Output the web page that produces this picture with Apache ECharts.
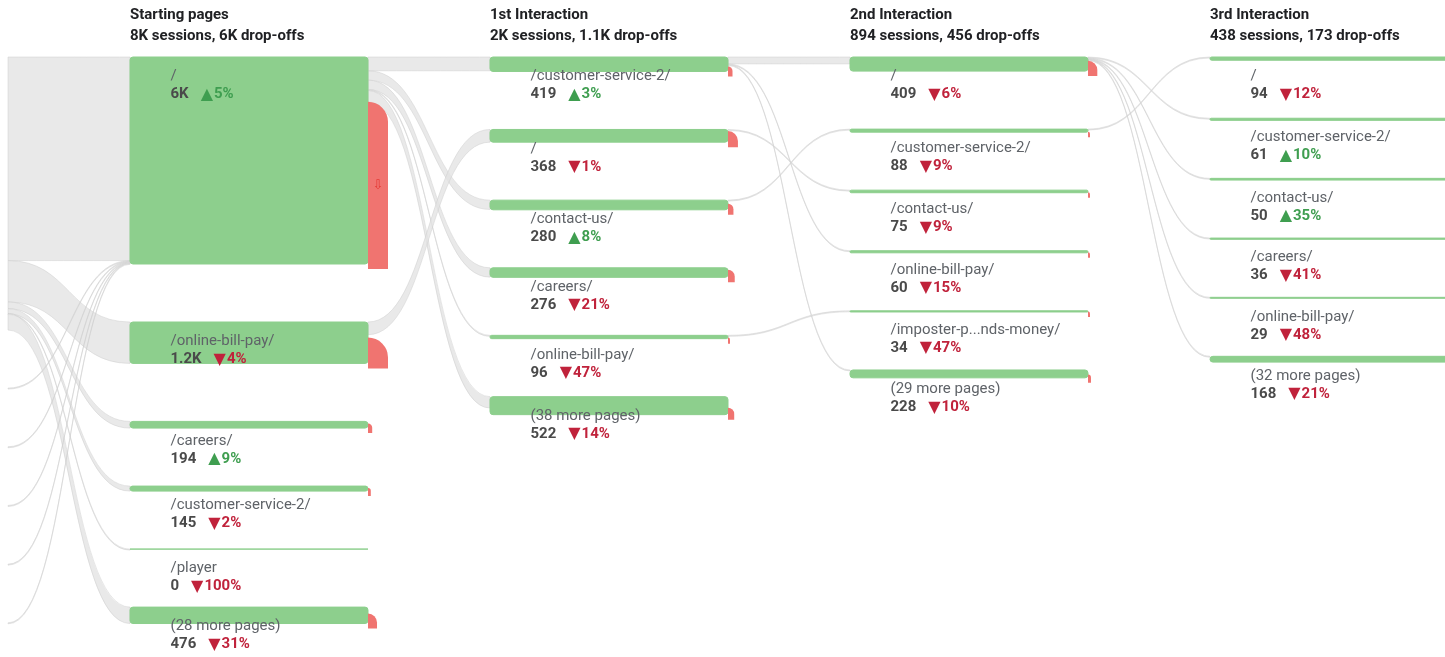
<!DOCTYPE html>
<html>
<head>
<meta charset="utf-8">
<script src="https://cdn.jsdelivr.net/npm/echarts@6.0.0/dist/echarts.min.js"></script>
<style>
  html, body { margin: 0; background: #fff; }
  #chart { width: 1445px; height: 657px; }
</style>
</head>
<body>
<div id="chart"></div>
<script>
// column headers
const stepNames = ['Starting pages', '1st Interaction', '2nd Interaction', '3rd Interaction'];

// pages per step (top to bottom)
const startPages = ['/', '/online-bill-pay/', '/careers/', '/customer-service-2/', '/player', '(28 more pages)'];
const step1Pages = ['/customer-service-2/', '/', '/contact-us/', '/careers/', '/online-bill-pay/', '(38 more pages)'];
const step2Pages = ['/', '/customer-service-2/', '/contact-us/', '/online-bill-pay/', '/imposter-p...nds-money/', '(29 more pages)'];
const step3Pages = ['/', '/customer-service-2/', '/contact-us/', '/careers/', '/online-bill-pay/', '(32 more pages)'];

// sessions per page
const startSessions = [6000, 1200, 194, 145, 0, 476];
const step1Sessions = [419, 368, 280, 276, 96, 522];
const step2Sessions = [409, 88, 75, 60, 34, 228];
const step3Sessions = [94, 61, 50, 36, 29, 168];

// change vs previous period, %
const startChange = [5, -4, 9, -2, -100, -31];
const step1Change = [3, -1, 8, -21, -47, -14];
const step2Change = [-6, -9, -9, -15, -47, -10];
const step3Change = [-12, 10, 35, -41, -48, -21];

// drop-offs per page (estimated from the red marks)
const startDrops = [4700, 750, 135, 90, 0, 290];
const step1Drops = [145, 320, 175, 217, 30, 200];
const step2Drops = [300, 15, 15, 15, 15, 96];
const step3Drops = [30, 20, 15, 12, 10, 86];

// entrances from the left edge into the starting pages
const entranceMain = [5900, 1200, 194, 145, 0, 476];
const entranceMinor = [20, 20, 20, 20, 20]; // small sources, all into '/'

// flows between steps: [from step, from page, to page, sessions]
const stepFlows = [
  [0, 0, 0, 400], [0, 0, 2, 270], [0, 0, 3, 270], [0, 0, 4, 30], [0, 0, 5, 330],
  [0, 1, 1, 368],
  [1, 0, 0, 200], [1, 0, 3, 20], [1, 0, 5, 25], [1, 1, 2, 20], [1, 2, 1, 20], [1, 4, 4, 10],
  [2, 0, 1, 30], [2, 1, 0, 20], [2, 0, 2, 20], [2, 0, 3, 15], [2, 0, 4, 15], [2, 0, 5, 25]
];

const pageCols = [startPages, step1Pages, step2Pages, step3Pages];
const sessionCols = [startSessions, step1Sessions, step2Sessions, step3Sessions];
const changeCols = [startChange, step1Change, step2Change, step3Change];
const dropCols = [startDrops, step1Drops, step2Drops, step3Drops];

// layout
const firstColX = 130;
const colStep = 360;
const barWidth = 238;
const nodeTop = 57;
const gap = 58;
const pxPerSession = 0.0345;

const sum = a => a.reduce((s, v) => s + v, 0);
const fmt = v => v < 1000 ? String(v) : (v / 1000).toFixed(1).replace('.0', '') + 'K';

const nodes = [];
const links = [];
const dropRefs = [];

nodes.push({ name: 'in-main', depth: 0, value: sum(entranceMain), label: { show: false }, itemStyle: { color: 'transparent', borderWidth: 0 } });
entranceMinor.forEach((v, i) => {
  nodes.push({ name: 'in-' + i, depth: 0, value: v, label: { show: false }, itemStyle: { color: 'transparent', borderWidth: 0 } });
});
pageCols.forEach((col, c) => {
  col.forEach((page, i) => {
    dropRefs.push({ index: nodes.length, drop: dropCols[c][i] });
    nodes.push({
      name: 's' + c + '-' + i,
      depth: c + 1,
      value: sessionCols[c][i],
      page: page,
      sessions: sessionCols[c][i],
      change: changeCols[c][i]
    });
  });
});

entranceMain.forEach((v, i) => links.push({ source: 'in-main', target: 's0-' + i, value: v }));
entranceMinor.forEach((v, i) => links.push({ source: 'in-' + i, target: 's0-0', value: v }));
stepFlows.forEach(f => links.push({ source: 's' + f[0] + '-' + f[1], target: 's' + (f[0] + 1) + '-' + f[2], value: f[3] }));

const totalStart = sum(startSessions);
const maxRows = Math.max(startPages.length, entranceMinor.length + 1);

const titles = stepNames.map((name, c) => ({
  text: name + '\n' + fmt(sum(sessionCols[c])) + ' sessions, ' + fmt(sum(dropCols[c])) + ' drop-offs',
  left: firstColX + c * colStep,
  top: 5,
  padding: 0,
  textStyle: { fontSize: 15, fontWeight: 'bold', color: '#202124', lineHeight: 21, fontFamily: 'Roboto' }
}));

const txt = { fontSize: 15, lineHeight: 18, fontFamily: 'Roboto' };
const arrow = { fontSize: 16, lineHeight: 18, fontFamily: 'DejaVu Sans', padding: [0, 1, 0, 12] };

const chart = echarts.init(document.getElementById('chart'));
chart.setOption({
  animation: false,
  title: titles,
  series: [{
    type: 'sankey',
    left: firstColX - colStep,
    top: nodeTop,
    width: stepNames.length * colStep + barWidth,
    height: (maxRows - 1) * gap + totalStart * pxPerSession,
    nodeWidth: barWidth,
    nodeGap: gap,
    nodeAlign: 'left',
    layoutIterations: 0,
    draggable: false,
    emphasis: { disabled: true },
    itemStyle: { color: '#8dcf8d', borderColor: '#8dcf8d', borderWidth: 1, borderRadius: 3 },
    lineStyle: { color: '#e3e3e3', opacity: 0.8, curveness: 0.5, borderColor: '#cdcdcd', borderWidth: 0.6 },
    label: {
      show: true,
      position: [41, 11],
      fontFamily: 'Roboto',
      formatter: p => {
        const d = p.data;
        const k = d.change >= 0 ? 'up' : 'dn';
        return '{n|' + d.page + '}\n{v|' + fmt(d.sessions) + '}{' + k + 'A|' + (d.change >= 0 ? '▲' : '▼') + '}{' + k + '|' + Math.abs(d.change) + '%}';
      },
      rich: {
        n: Object.assign({}, txt, { color: '#5f6368' }),
        v: Object.assign({}, txt, { fontWeight: 'bold', color: '#4a4a4a' }),
        up: Object.assign({}, txt, { fontWeight: 'bold', color: '#3f9e50' }),
        dn: Object.assign({}, txt, { fontWeight: 'bold', color: '#c0223b' }),
        upA: Object.assign({}, arrow, { color: '#3f9e50' }),
        dnA: Object.assign({}, arrow, { color: '#c0223b' })
      }
    },
    data: nodes,
    links: links
  }]
});

// red drop-off marks at the right end of each page bar
try {
  const model = chart.getModel().getSeriesByIndex(0);
  const nodeData = model.getData();
  const box = model.layoutInfo;
  const ref = nodeData.getItemLayout(dropRefs[0].index);
  const ky = ref.dy / ref.value;
  const marks = [];
  dropRefs.forEach(r => {
    if (!r.drop) return;
    const L = nodeData.getItemLayout(r.index);
    const h = r.drop * ky;
    const w = Math.min(20, Math.max(2, h * 0.9));
    const x = box.x + L.x + L.dx;
    const y = box.y + L.y + L.dy - h;
    marks.push({
      type: 'rect', z: 10,
      shape: { x: x, y: y, width: w, height: h + 5, r: [0, w, 0, 0] },
      style: { fill: '#f07470' }
    });
    if (h > 60) {
      marks.push({
        type: 'text', z: 11,
        style: { x: x + w / 2, y: y + (h + 5) / 2, text: '⇩', fill: '#e53935', fontSize: 13, fontFamily: 'DejaVu Sans', align: 'center', verticalAlign: 'middle' }
      });
    }
  });
  chart.setOption({ graphic: marks });
} catch (e) {
  console.error(e);
}
</script>
</body>
</html>
